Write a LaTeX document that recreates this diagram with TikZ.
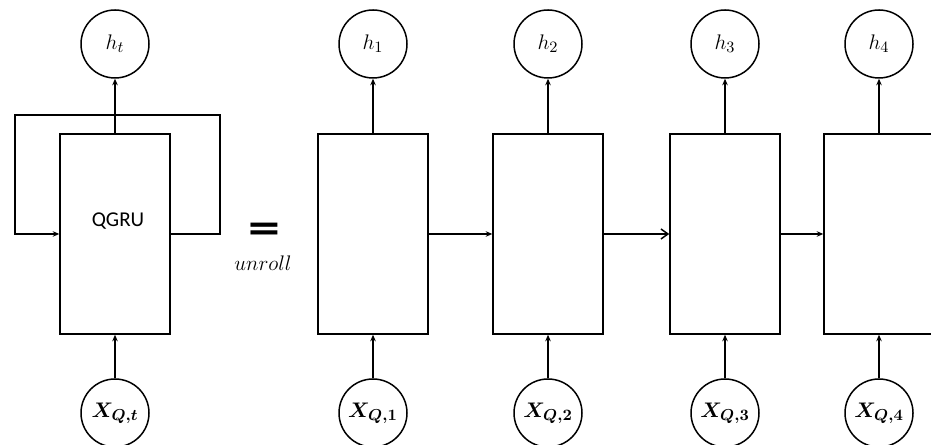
\documentclass[tikz,border=0pt]{standalone}
\usepackage{amsmath}
\usepackage{fontspec}
\setsansfont{Carlito}
\usetikzlibrary{arrows.meta,positioning}

\begin{document}
\begin{tikzpicture}[
  >={Stealth[length=1.3mm,width=1.1mm]},
  line width=0.3mm,
  every node/.style={font=\fontsize{13}{15}\selectfont},
  state/.style={draw, circle, minimum size=13.6mm, inner sep=0pt},
  cell/.style={draw, rectangle, minimum width=22mm, minimum height=40mm, inner sep=0pt},
]
\useasboundingbox (0,0) rectangle (186.2mm, 89mm);

% Folded cell with its recurrent loop
\node[cell] (q) at (23mm, 42.2mm) {};
\node[font=\sffamily\large] (qname) at (23.6mm, 44.8mm) {QGRU};
\node[state] (ht) at (23mm, 80.2mm) {$h_t$};
\node[state] (xt) at (23mm, 6.4mm) {$\boldsymbol{X_{Q,t}}$};
\draw[->] (xt) -- (q);
\draw[->] (q) -- (ht);
\coordinate (fbR) at (44mm, 66mm);
\coordinate (fbL) at (3mm, 66mm);
\draw[->] (q.east) -| (fbR) -- (fbL) |- (q.west);

% Equals / unroll
\node[font=\sffamily\bfseries\fontsize{26}{30}\selectfont] (eq) at (52.8mm, 42.4mm) {\scalebox{1.4}[1]{=}};
\node[font=\large] (unroll) at (52.6mm, 36.4mm) {$unroll$};

% Unrolled steps
\foreach \i/\x in {1/74.6, 2/109.6, 3/145, 4/175.8} {
  \node[cell] (c\i) at (\x mm, 42.2mm) {};
  \node[state] (h\i) at (\x mm, 80.2mm) {$h_{\i}$};
  \node[state] (x\i) at (\x mm, 6.4mm) {$\boldsymbol{X_{Q,\i}}$};
  \draw[->] (x\i) -- (c\i);
  \draw[->] (c\i) -- (h\i);
}
\draw[->] (c1) -- (c2);
\draw[-{Straight Barb[length=1.4mm,width=2mm]}] (c2) -- (c3);
\draw[->] (c3) -- (c4);
\end{tikzpicture}
\end{document}
